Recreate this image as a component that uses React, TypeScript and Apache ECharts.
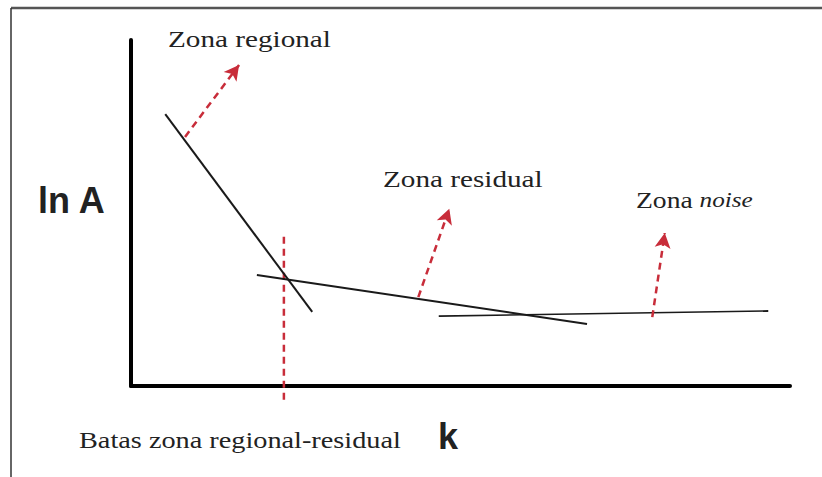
import React, { useEffect, useRef } from "react";
import * as echarts from "echarts";

// Schematic power-spectrum segments (k, ln A) on a 0-100 scale
const regionalLine = [[5.2, 78.6], [27.5, 21.4]];
const residualLine = [[19.1, 32.1], [69.2, 17.9]];
const noiseLine = [[46.7, 20.2], [96.7, 21.7]];

// Red dashed pointer arrows: [from, to]
const arrowRegional = [[8.2, 72.0], [16.4, 92.8]];
const arrowResidual = [[43.6, 25.7], [48.3, 51.2]];
const arrowNoise = [[79.1, 19.9], [81.0, 44.2]];
const boundaryLine = [[23.2, 43.1], [23.2, -5.2]];

const labelRegional = "Zona regional";
const labelResidual = "Zona residual";
const labelNoiseA = "Zona ";
const labelNoiseB = "noise";
const labelBoundary = "Batas zona regional-residual";
const labelY = "ln A";
const labelX = "k";

export default function App() {
  const ref = useRef<HTMLDivElement>(null);
  useEffect(() => {
    if (!ref.current) return;
    const chart = echarts.init(ref.current, null, { renderer: "svg" });
    const red = "#c82d3a";
    const black = "#1a1a1a";
    const serif = "'Liberation Serif', 'DejaVu Serif', serif";
    const sans = "'Liberation Sans', Arial, sans-serif";
    const mk = (seg: number[][], arrow: boolean) => [
      { coord: seg[0], symbol: "none" },
      { coord: seg[1], symbol: arrow ? "arrow" : "none" },
    ];
    chart.setOption({
      animation: false,
      backgroundColor: "#ffffff",
      grid: { left: 131, right: 32, top: 40, bottom: 91 },
      xAxis: {
        type: "value",
        min: 0,
        max: 100,
        axisLine: { show: true, lineStyle: { color: "#000", width: 4 } },
        axisTick: { show: false },
        axisLabel: { show: false },
        splitLine: { show: false },
      },
      yAxis: {
        type: "value",
        min: 0,
        max: 100,
        axisLine: { show: true, lineStyle: { color: "#000", width: 4 } },
        axisTick: { show: false },
        axisLabel: { show: false },
        splitLine: { show: false },
      },
      series: [
        {
          type: "line",
          data: boundaryLine,
          showSymbol: false,
          lineStyle: { color: red, width: 2.5, type: [7, 5] },
          clip: false,
          z: 1,
        },
        {
          type: "line",
          data: regionalLine,
          showSymbol: false,
          lineStyle: { color: black, width: 2 },
          clip: false,
        },
        {
          type: "line",
          data: residualLine,
          showSymbol: false,
          lineStyle: { color: black, width: 2 },
          clip: false,
        },
        {
          type: "line",
          data: noiseLine,
          showSymbol: false,
          lineStyle: { color: black, width: 1.6 },
          clip: false,
          markLine: {
            silent: true,
            symbolSize: [12, 15],
            label: { show: false },
            lineStyle: { color: red, width: 2.5, type: [7, 5] },
            emphasis: { disabled: true },
            data: [
              mk(arrowRegional, true),
              mk(arrowResidual, true),
              mk(arrowNoise, true),
            ],
          },
        },
      ],
      graphic: [
        { type: "line", shape: { x1: 11, y1: 8, x2: 822, y2: 8 }, style: { stroke: "#555", lineWidth: 2.5 } },
        { type: "line", shape: { x1: 11, y1: 8, x2: 11, y2: 477 }, style: { stroke: "#333", lineWidth: 1.5 } },
        {
          type: "text", x: 168, y: 40, scaleX: 1.27,
          style: { text: labelRegional, font: `23px ${serif}`, fill: "#222", textAlign: "left", textVerticalAlign: "middle" },
        },
        {
          type: "text", x: 383, y: 180, scaleX: 1.27,
          style: { text: labelResidual, font: `23px ${serif}`, fill: "#222", textAlign: "left", textVerticalAlign: "middle" },
        },
        {
          type: "text", x: 636, y: 200, scaleX: 1.2,
          style: {
            text: `{a|${labelNoiseA}}{b|${labelNoiseB}}`,
            textAlign: "left",
            textVerticalAlign: "middle",
            rich: {
              a: { fontFamily: serif, fontSize: 23, fill: "#222" },
              b: { fontFamily: serif, fontSize: 21, fontStyle: "italic", fill: "#222" },
            },
          },
        },
        {
          type: "text", x: 79, y: 440, scaleX: 1.23,
          style: { text: labelBoundary, font: `23px ${serif}`, fill: "#222", textAlign: "left", textVerticalAlign: "middle" },
        },
        {
          type: "text", x: 38, y: 200,
          style: { text: labelY, font: `bold 36px ${sans}`, fill: "#222", textAlign: "left", textVerticalAlign: "middle" },
        },
        {
          type: "text", x: 438, y: 436,
          style: { text: labelX, font: `bold 36px ${sans}`, fill: "#222", textAlign: "left", textVerticalAlign: "middle" },
        },
      ],
    });
    return () => chart.dispose();
  }, []);
  return (
    <div
      ref={ref}
      style={{ position: "fixed", left: 0, top: 0, width: 822, height: 477, background: "#fff" }}
    />
  );
}
